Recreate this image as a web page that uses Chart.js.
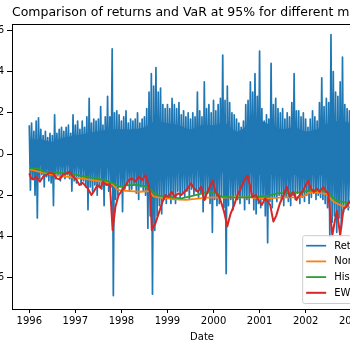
<!DOCTYPE html>
<html>
<head>
<meta charset="utf-8">
<script src="https://cdn.jsdelivr.net/npm/chart.js@4/dist/chart.umd.min.js"></script>
<style>
  html, body { margin: 0; padding: 0; background: #fff; overflow: hidden; width: 350px; height: 350px; }
  #wrap { position: absolute; left: -38px; top: 0; width: 476px; height: 350px; }
</style>
</head>
<body>
<div id="wrap"><canvas id="c" width="476" height="350"></canvas></div>
<script>
// ---------------- data ----------------
const chartTitle = "Comparison of returns and VaR at 95% for different methods";
const xTitle = "Date";
const yearTicks = [1996, 1997, 1998, 1999, 2000, 2001, 2002, 2003];
const yTicks = [-0.06, -0.04, -0.02, 0.00, 0.02, 0.04, 0.06];
const seriesNames = ["Returns", "Normal", "Historical", "EWMA"];

// daily returns summarised as successive high / low readings (every 0.05 yr, low half-step later)
const retStartYear = 1996.0;
const retStepYears = 0.05;
const retHigh = [
 0.014,0.015,0.011,0.016,0.0176,0.012,0.009,0.011,0.008,0.010,
 0.009,0.019,0.010,0.012,0.013,0.011,0.013,0.014,0.010,0.019,
 0.014,0.016,0.012,0.016,0.013,0.018,0.027,0.015,0.017,0.016,
 0.017,0.023,0.014,0.018,0.028,0.018,0.051,0.020,0.021,0.019,
 0.016,0.018,0.021,0.015,0.017,0.016,0.017,0.020,0.015,0.017,
 0.018,0.022,0.030,0.039,0.033,0.042,0.030,0.032,0.024,0.022,
 0.024,0.022,0.027,0.024,0.022,0.025,0.019,0.021,0.018,0.020,
 0.017,0.020,0.018,0.030,0.021,0.018,0.035,0.022,0.024,0.020,
 0.026,0.021,0.024,0.027,0.048,0.026,0.033,0.025,0.020,0.019,
 0.017,0.015,0.013,0.016,0.024,0.026,0.035,0.030,0.039,0.028,
 0.050,0.022,0.016,0.019,0.017,0.044,0.024,0.027,0.022,0.020,
 0.022,0.017,0.020,0.018,0.025,0.039,0.021,0.021,0.018,0.020,
 0.017,0.013,0.017,0.021,0.018,0.016,0.025,0.037,0.023,0.027,
 0.025,0.058,0.040,0.030,0.028,0.035,0.047,0.024,0.022,0.021,
 0.028,0.030,0.025,0.035,0.027,0.022,0.020,0.024,0.019,0.018
];
const retLow = [
 -0.0175,-0.012,-0.020,-0.031,-0.012,-0.010,-0.016,-0.011,-0.013,-0.014,
 -0.025,-0.012,-0.010,-0.013,-0.011,-0.012,-0.010,-0.012,-0.018,-0.013,
 -0.014,-0.011,-0.015,-0.013,-0.016,-0.027,-0.016,-0.018,-0.015,-0.020,
 -0.016,-0.017,-0.025,-0.015,-0.018,-0.016,-0.0687,-0.022,-0.020,-0.016,
 -0.028,-0.017,-0.015,-0.018,-0.017,-0.015,-0.019,-0.022,-0.016,-0.018,
 -0.020,-0.036,-0.030,-0.068,-0.037,-0.030,-0.025,-0.029,-0.022,-0.024,
 -0.020,-0.024,-0.022,-0.024,-0.018,-0.022,-0.019,-0.021,-0.018,-0.022,
 -0.017,-0.020,-0.018,-0.021,-0.019,-0.028,-0.022,-0.019,-0.024,-0.038,
 -0.022,-0.025,-0.024,-0.020,-0.026,-0.058,-0.025,-0.022,-0.027,-0.020,
 -0.022,-0.024,-0.021,-0.027,-0.022,-0.024,-0.020,-0.027,-0.029,-0.024,
 -0.026,-0.022,-0.030,-0.043,-0.023,-0.026,-0.021,-0.023,-0.020,-0.022,
 -0.025,-0.021,-0.023,-0.025,-0.020,-0.022,-0.019,-0.024,-0.021,-0.023,
 -0.020,-0.024,-0.021,-0.019,-0.022,-0.020,-0.021,-0.022,-0.024,-0.026,
 -0.040,-0.033,-0.030,-0.038,-0.031,-0.036,-0.028,-0.025,-0.027,-0.024,
 -0.030,-0.028,-0.025,-0.027,-0.022,-0.024,-0.020,-0.021,-0.019,-0.020
];
// dense core of the returns band (where daily returns overlap into solid blue)
const coreYears = [1996.0,1996.25,1996.5,1996.75,1997.0,1997.25,1997.5,1997.75,1998.0,1998.25,1998.5,1998.75,1999.0,1999.25,1999.5,1999.75,2000.0,2000.25,2000.5,2000.75,2001.0,2001.25,2001.5,2001.75,2002.0,2002.25,2002.5,2002.75,2003.0,2003.25,2003.5];
const coreTop = [0.007,0.007,0.006,0.008,0.009,0.010,0.011,0.012,0.012,0.012,0.013,0.016,0.015,0.014,0.012,0.014,0.014,0.015,0.011,0.014,0.016,0.014,0.012,0.013,0.011,0.012,0.015,0.016,0.015,0.014,0.013];
const coreBottom = [-0.005,-0.005,-0.005,-0.005,-0.006,-0.006,-0.006,-0.007,-0.007,-0.007,-0.007,-0.009,-0.009,-0.008,-0.008,-0.008,-0.009,-0.009,-0.009,-0.009,-0.010,-0.010,-0.010,-0.010,-0.010,-0.010,-0.011,-0.012,-0.011,-0.011,-0.010];

const normYears = [1996.0,1996.2,1996.4,1996.6,1996.8,1997.0,1997.2,1997.4,1997.6,1997.8,1997.9,1998.0,1998.2,1998.4,1998.6,1998.7,1998.8,1999.0,1999.2,1999.4,1999.6,1999.8,2000.0,2000.2,2000.4,2000.6,2000.8,2001.0,2001.2,2001.4,2001.6,2001.8,2001.95,2002.1,2002.3,2002.45,2002.6,2002.75,2002.9,2003.1,2003.3,2003.5];
const normVaR = [-0.0075,-0.0085,-0.0095,-0.0105,-0.011,-0.0115,-0.012,-0.0128,-0.0135,-0.0145,-0.017,-0.0178,-0.018,-0.0183,-0.018,-0.0205,-0.021,-0.0215,-0.022,-0.0222,-0.0218,-0.0213,-0.021,-0.0212,-0.021,-0.021,-0.021,-0.0215,-0.0215,-0.0212,-0.021,-0.021,-0.0205,-0.0185,-0.0188,-0.0195,-0.023,-0.0248,-0.0258,-0.026,-0.026,-0.0258];

const histYears = [1996.0,1996.2,1996.3,1996.6,1996.9,1997.1,1997.3,1997.5,1997.7,1997.85,1997.95,1998.1,1998.3,1998.5,1998.65,1998.75,1998.9,1999.1,1999.3,1999.5,1999.7,1999.9,2000.05,2000.15,2000.4,2000.7,2000.95,2001.2,2001.4,2001.7,2001.95,2002.1,2002.35,2002.5,2002.65,2002.85,2003.1,2003.3,2003.5];
const histVaR = [-0.007,-0.007,-0.0085,-0.009,-0.0095,-0.0105,-0.0112,-0.012,-0.0132,-0.0145,-0.0158,-0.0152,-0.015,-0.0155,-0.0175,-0.0198,-0.0205,-0.021,-0.0215,-0.0205,-0.0195,-0.0183,-0.0185,-0.0205,-0.021,-0.021,-0.0208,-0.0202,-0.019,-0.019,-0.0183,-0.0177,-0.0175,-0.019,-0.0225,-0.0235,-0.024,-0.0238,-0.0235];

const ewmaYears = [1996.00,1996.04,1996.08,1996.15,1996.23,1996.30,1996.38,1996.45,1996.52,1996.59,1996.66,1996.73,1996.80,1996.88,1996.95,1997.02,1997.09,1997.16,1997.27,1997.35,1997.42,1997.48,1997.55,1997.60,1997.68,1997.75,1997.81,1997.87,1997.94,1998.05,1998.16,1998.23,1998.30,1998.38,1998.45,1998.52,1998.59,1998.63,1998.66,1998.74,1998.81,1998.88,1998.95,1999.02,1999.09,1999.16,1999.23,1999.30,1999.37,1999.44,1999.51,1999.58,1999.66,1999.73,1999.80,1999.87,1999.95,1999.99,2000.04,2000.12,2000.16,2000.23,2000.30,2000.37,2000.45,2000.52,2000.59,2000.67,2000.74,2000.79,2000.84,2000.92,2000.99,2001.05,2001.12,2001.18,2001.23,2001.30,2001.36,2001.44,2001.52,2001.59,2001.66,2001.73,2001.80,2001.87,2001.95,2002.02,2002.06,2002.11,2002.18,2002.24,2002.31,2002.38,2002.45,2002.49,2002.52,2002.58,2002.65,2002.68,2002.75,2002.82,2002.88,2002.95,2003.05,2003.15,2003.25,2003.35,2003.45,2003.50];
const ewmaVaR = [-0.0094,-0.0118,-0.0123,-0.011,-0.0134,-0.011,-0.0100,-0.009,-0.0095,-0.0118,-0.0123,-0.010,-0.0094,-0.0086,-0.0110,-0.0123,-0.015,-0.014,-0.0167,-0.0199,-0.0175,-0.015,-0.0165,-0.0134,-0.0150,-0.0145,-0.0369,-0.0256,-0.0199,-0.0167,-0.0126,-0.0118,-0.0134,-0.011,-0.0126,-0.0102,-0.015,-0.0199,-0.0369,-0.0336,-0.0288,-0.024,-0.0199,-0.0207,-0.0183,-0.0207,-0.0191,-0.0199,-0.0183,-0.0167,-0.0142,-0.0167,-0.0183,-0.0158,-0.0223,-0.0183,-0.0142,-0.0130,-0.0183,-0.0207,-0.023,-0.028,-0.0350,-0.029,-0.0247,-0.0199,-0.0167,-0.0126,-0.0105,-0.0150,-0.0207,-0.0199,-0.023,-0.0247,-0.0215,-0.0230,-0.0247,-0.0328,-0.0300,-0.024,-0.0199,-0.0158,-0.0207,-0.0183,-0.0223,-0.0199,-0.0175,-0.0142,-0.0130,-0.0167,-0.0183,-0.0167,-0.0183,-0.0160,-0.0183,-0.0190,-0.0256,-0.0395,-0.0304,-0.0275,-0.0395,-0.0270,-0.0256,-0.0230,-0.0250,-0.0220,-0.0240,-0.0210,-0.0225,-0.0215];

// ---------------- build library tables ----------------
const retPoints = [];
for (let i = 0; i < retHigh.length; i++) {
  const t = retStartYear + i * retStepYears;
  retPoints.push({x: t, y: retHigh[i]});
  retPoints.push({x: t + retStepYears / 2, y: retLow[i]});
}
const pairUp = (xs, ys) => xs.map((x, i) => ({x: x, y: ys[i]}));

const colors = ["#1f77b4", "#ff7f0e", "#2ca02c", "#d62728"];
const widths = [1.7, 1.8, 1.8, 2.0];
const FONT = "'DejaVu Sans', sans-serif";

const mplFrameAndLegend = {
  id: 'mplFrameAndLegend',
  afterDraw(chart) {
    const ctx = chart.ctx;
    const a = chart.chartArea;
    ctx.save();
    ctx.strokeStyle = '#000';
    ctx.lineWidth = 1;
    ctx.strokeRect(Math.round(a.left) + 0.5, Math.round(a.top) + 0.5,
                   Math.round(a.right - a.left), Math.round(a.bottom - a.top));
    const ds = chart.data.datasets.filter(d => d.inLegend);
    ctx.font = "10px " + FONT;
    let tw = 0;
    ds.forEach(d => { tw = Math.max(tw, ctx.measureText(d.label).width); });
    const pad = 4, handle = 20, gap = 8, rowH = 15.7;
    const w = pad + handle + gap + tw + pad + 2;
    const h = pad * 2 + rowH * ds.length - 3;
    const x0 = a.right - 5 - w;
    const y0 = a.bottom - 6 - h;
    ctx.fillStyle = 'rgba(255,255,255,0.8)';
    ctx.strokeStyle = '#cccccc';
    ctx.lineWidth = 1;
    ctx.beginPath();
    if (ctx.roundRect) ctx.roundRect(x0 + 0.5, y0 + 0.5, w, h, 2); else ctx.rect(x0 + 0.5, y0 + 0.5, w, h);
    ctx.fill();
    ctx.stroke();
    ds.forEach((d, i) => {
      const cy = y0 + pad + rowH * i + 6.5;
      ctx.strokeStyle = d.borderColor;
      ctx.lineWidth = d.borderWidth;
      ctx.beginPath();
      ctx.moveTo(x0 + pad, cy);
      ctx.lineTo(x0 + pad + handle, cy);
      ctx.stroke();
      ctx.fillStyle = '#000';
      ctx.textBaseline = 'middle';
      ctx.textAlign = 'left';
      ctx.fillText(d.label, x0 + pad + handle + gap, cy + 0.5);
    });
    ctx.restore();
  }
};

const mainSets = [
  {label: seriesNames[0], data: retPoints},
  {label: seriesNames[1], data: pairUp(normYears, normVaR)},
  {label: seriesNames[2], data: pairUp(histYears, histVaR)},
  {label: seriesNames[3], data: pairUp(ewmaYears, ewmaVaR)}
].map((d, i) => Object.assign(d, {
  borderColor: colors[i], backgroundColor: colors[i], borderWidth: widths[i],
  pointRadius: 0, tension: 0, fill: false, borderJoinStyle: 'round', borderCapStyle: 'butt',
  order: seriesNames.length - i, inLegend: true
}));
const coreSets = [
  {label: 'core-top', data: pairUp(coreYears, coreTop), fill: '+1', backgroundColor: colors[0],
   borderColor: colors[0], borderWidth: 0, pointRadius: 0, tension: 0.3, order: 10, inLegend: false},
  {label: 'core-bottom', data: pairUp(coreYears, coreBottom), fill: false, backgroundColor: colors[0],
   borderColor: colors[0], borderWidth: 0, pointRadius: 0, tension: 0.3, order: 11, inLegend: false}
];

new Chart(document.getElementById('c'), {
  type: 'line',
  data: { datasets: mainSets.concat(coreSets) },
  options: {
    responsive: false,
    devicePixelRatio: 1,
    animation: false,
    layout: { padding: { left: 0, right: 46, top: 0, bottom: 2 } },
    plugins: {
      legend: { display: false },
      tooltip: { enabled: false },
      title: {
        display: true, text: chartTitle, fullSize: false, color: '#000',
        font: { family: FONT, size: 12.5, weight: 'normal' },
        padding: { top: 5, bottom: 4 }
      }
    },
    scales: {
      x: {
        type: 'linear', min: 1995.625, max: 2003.875,
        afterBuildTicks: s => { s.ticks = yearTicks.map(v => ({value: v})); },
        ticks: { color: '#000', font: { family: FONT, size: 10 }, padding: 2, maxRotation: 0,
                 callback: v => String(v) },
        grid: { drawOnChartArea: false, drawTicks: true, tickLength: 4, color: '#000', tickWidth: 1 },
        border: { display: false },
        title: { display: true, text: xTitle, color: '#000', font: { family: FONT, size: 10 }, padding: { top: 2, bottom: 5 } }
      },
      y: {
        type: 'linear', min: -0.0752, max: 0.0631,
        afterBuildTicks: s => { s.ticks = yTicks.map(v => ({value: v})); },
        afterFit: s => { s.width = 50; },
        ticks: { color: '#000', font: { family: FONT, size: 10 }, padding: 3,
                 callback: v => (v < 0 ? '\u2212' : '') + Math.abs(v).toFixed(2) },
        grid: { drawOnChartArea: false, drawTicks: true, tickLength: 5, color: '#000', tickWidth: 1 },
        border: { display: false }
      }
    }
  },
  plugins: [mplFrameAndLegend]
});
</script>
</body>
</html>
